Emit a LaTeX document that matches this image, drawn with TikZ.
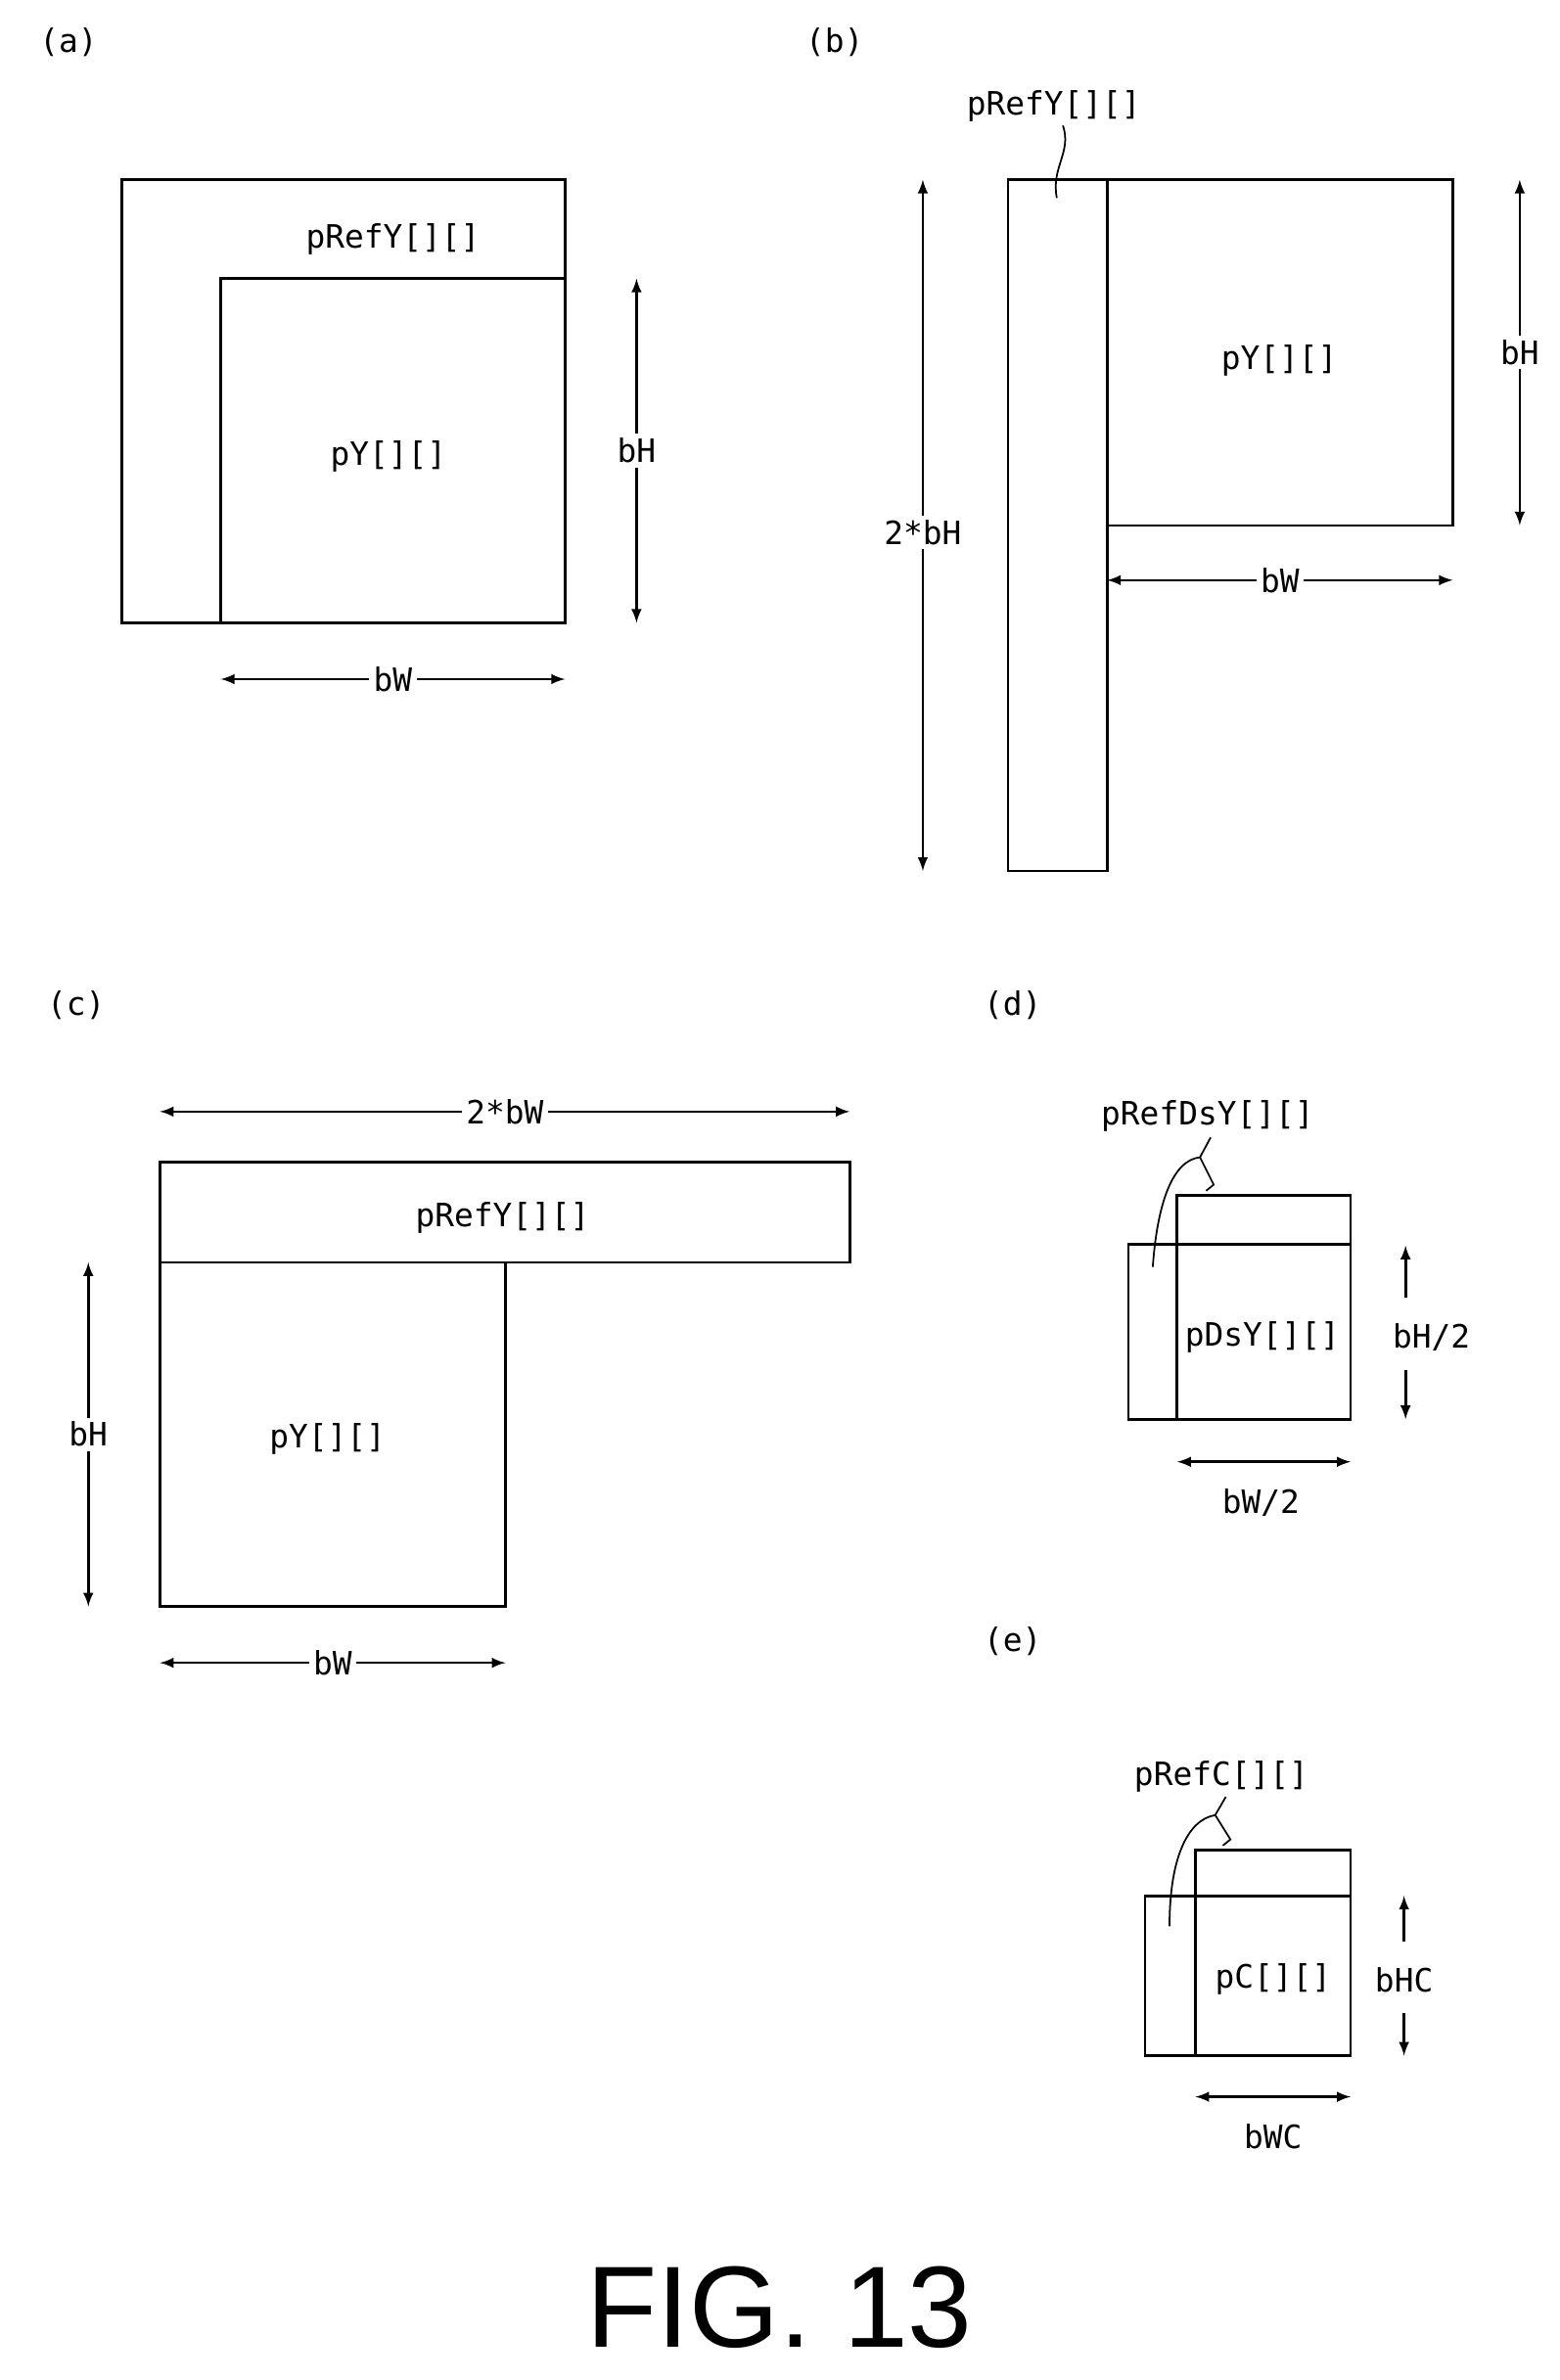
\documentclass[tikz,border=0pt]{standalone}
\usepackage{fontspec}
\setmonofont{DejaVu Sans Mono}
\newfontfamily\figfont{Liberation Sans}
\begin{document}
\begin{tikzpicture}
    [x=0.025cm, y=-0.025cm, line width=1.2pt,
     every node/.style={font=\ttfamily\fontsize{15}{18}\selectfont, inner sep=1pt},
     dim/.style={<->, >=latex},
     lbl/.style={fill=white, inner sep=2pt}]
    \useasboundingbox (0,0) rectangle (1024,1563);
    % (a)
    \node (la) at (45,28){(a)};
    \draw (80,118) rectangle (371,409);
    \draw (145,409) -- (145,183) -- (371,183);
    \node (refa) at (258,157){pRefY[][]};
    \node (pya) at (255,300){pY[][]};
    \coordinate (ah1) at (418,183); \coordinate (ah2) at (418,409);
    \draw[dim] (ah1) -- node[lbl]{bH} (ah2);
    \coordinate (aw1) at (145,446); \coordinate (aw2) at (371,446);
    \draw[dim] (aw1) -- node[lbl]{bW} (aw2);
    % (b)
    \node (lb) at (548,28){(b)};
    \draw (662,118) rectangle (727,572);
    \draw (727,118) rectangle (954,345);
    \node (refb) at (692,70){pRefY[][]};
    \coordinate (rb) at (694,130);
    \draw[line width=0.8pt] (refb.south) ++(6,0) .. controls (704,100) and (690,110) .. (rb);
    \node (pyb) at (840,237){pY[][]};
    \coordinate (bh1) at (998,118); \coordinate (bh2) at (998,345);
    \draw[dim] (bh1) -- node[lbl]{bH} (bh2);
    \coordinate (bw1) at (727,381); \coordinate (bw2) at (954,381);
    \draw[dim] (bw1) -- node[lbl]{bW} (bw2);
    \coordinate (b2h1) at (606,118); \coordinate (b2h2) at (606,572);
    \draw[dim] (b2h1) -- node[lbl, pos=0.51]{2*bH} (b2h2);
    % (c)
    \node (lc) at (50,660){(c)};
    \draw (105,763) rectangle (558,829);
    \draw (105,829) rectangle (332,1055);
    \node (refc) at (330,800){pRefY[][]};
    \node (pyc) at (215,945){pY[][]};
    \coordinate (c2w1) at (105,730); \coordinate (c2w2) at (558,730);
    \draw[dim] (c2w1) -- node[lbl]{2*bW} (c2w2);
    \coordinate (ch1) at (58,829); \coordinate (ch2) at (58,1055);
    \draw[dim] (ch1) -- node[lbl]{bH} (ch2);
    \coordinate (cw1) at (105,1092); \coordinate (cw2) at (332,1092);
    \draw[dim] (cw1) -- node[lbl]{bW} (cw2);
    % (d)
    \node (ld) at (665,660){(d)};
    \draw (741,817) rectangle (887,932);
    \draw (773,932) -- (773,785) -- (887,785) -- (887,817);
    \node (refd) at (793,733){pRefDsY[][]};
    \node (pyd) at (829,878){pDsY[][]};
    \draw[line width=0.8pt] (795,747) -- (788,760) .. controls (770,762) and (760,790) .. (757,832);
    \draw[line width=0.8pt] (788,760) -- (797,778) -- (792,782);
    \node (bhd) at (940,878){bH/2};
    \coordinate (dh1) at (923,818); \coordinate (dh2) at (923,932);
    \draw[->, >=latex] (923,852) -- (dh1);
    \draw[->, >=latex] (923,900) -- (dh2);
    \coordinate (dw1) at (773,960); \coordinate (dw2) at (887,960);
    \draw[dim] (dw1) -- (dw2);
    \node (bwd) at (828,987){bW/2};
    % (e)
    \node (le) at (665,1078){(e)};
    \draw (752,1245) rectangle (887,1350);
    \draw (785,1350) -- (785,1215) -- (887,1215) -- (887,1245);
    \node (refe) at (802,1167){pRefC[][]};
    \node (pce) at (836,1300){pC[][]};
    \draw[line width=0.8pt] (805,1180) -- (798,1192) .. controls (780,1195) and (768,1220) .. (768,1265);
    \draw[line width=0.8pt] (798,1192) -- (808,1208) -- (803,1212);
    \node (bhe) at (922,1300){bHC};
    \coordinate (eh1) at (922,1245); \coordinate (eh2) at (922,1350);
    \draw[->, >=latex] (922,1275) -- (eh1);
    \draw[->, >=latex] (922,1322) -- (eh2);
    \coordinate (ew1) at (785,1377); \coordinate (ew2) at (887,1377);
    \draw[dim] (ew1) -- (ew2);
    \node (bwe) at (836,1403){bWC};
    % caption
    \node (fig) at (512,1515){\figfont\fontsize{54}{60}\selectfont FIG. 13};
\end{tikzpicture}
\end{document}
